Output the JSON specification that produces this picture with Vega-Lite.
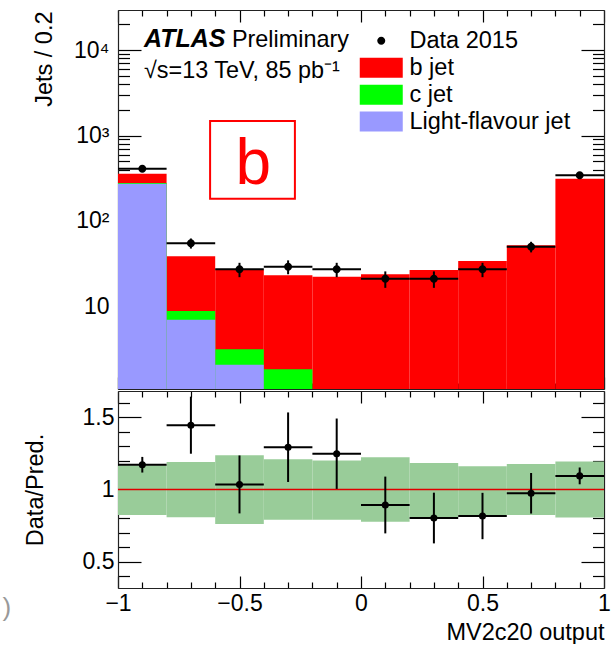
{
  "$schema": "https://vega.github.io/schema/vega-lite/v6.json",
  "padding": {"left": 2, "top": 9, "right": 0, "bottom": 0},
  "background": "white",
  "spacing": 0,
  "config": {
    "font": "Liberation Sans",
    "view": {"stroke": null},
    "axis": {
      "grid": false, "domain": true, "domainColor": "#222222", "domainWidth": 1.2,
      "tickColor": "black", "tickWidth": 1.2, "labelFont": "Liberation Sans", "titleFont": "Liberation Sans",
      "labelColor": "black", "titleColor": "black", "titleFontWeight": "normal", "zindex": 1,
      "labelFlush": false, "labelOverlap": false, "labelFontSize": 23, "titleFontSize": 23.5
    }
  },
  "datasets": {
    "mc": [
      {"lo": -1.0, "hi": -0.8, "flavour": "Light-flavour jet", "n": 273, "k": 1},
      {"lo": -1.0, "hi": -0.8, "flavour": "c jet", "n": 5, "k": 2},
      {"lo": -1.0, "hi": -0.8, "flavour": "b jet", "n": 79, "k": 3},
      {"lo": -0.8, "hi": -0.6, "flavour": "Light-flavour jet", "n": 7.0, "k": 1},
      {"lo": -0.8, "hi": -0.6, "flavour": "c jet", "n": 1.85, "k": 2},
      {"lo": -0.8, "hi": -0.6, "flavour": "b jet", "n": 29.75, "k": 3},
      {"lo": -0.6, "hi": -0.4, "flavour": "Light-flavour jet", "n": 2.08, "k": 1},
      {"lo": -0.6, "hi": -0.4, "flavour": "c jet", "n": 1.08, "k": 2},
      {"lo": -0.6, "hi": -0.4, "flavour": "b jet", "n": 23.74, "k": 3},
      {"lo": -0.4, "hi": -0.2, "flavour": "c jet", "n": 1.84, "k": 2},
      {"lo": -0.4, "hi": -0.2, "flavour": "b jet", "n": 21.4, "k": 3},
      {"lo": -0.2, "hi": 0.0, "flavour": "b jet", "n": 22.3, "k": 3},
      {"lo": 0.0, "hi": 0.2, "flavour": "b jet", "n": 23.8, "k": 3},
      {"lo": 0.2, "hi": 0.4, "flavour": "b jet", "n": 26.7, "k": 3},
      {"lo": 0.4, "hi": 0.6, "flavour": "b jet", "n": 34.0, "k": 3},
      {"lo": 0.6, "hi": 0.8, "flavour": "b jet", "n": 52.0, "k": 3},
      {"lo": 0.8, "hi": 1.0, "flavour": "b jet", "n": 312, "k": 3}
    ],
    "data": [
      {"x": -0.9, "lo": -1.0, "hi": -0.8, "n": 409, "err": 20.2},
      {"x": -0.7, "lo": -0.8, "hi": -0.6, "n": 55, "err": 7.4},
      {"x": -0.5, "lo": -0.6, "hi": -0.4, "n": 27.2, "err": 5.2},
      {"x": -0.3, "lo": -0.4, "hi": -0.2, "n": 29.2, "err": 5.4},
      {"x": -0.1, "lo": -0.2, "hi": 0.0, "n": 27.2, "err": 5.2},
      {"x": 0.1, "lo": 0.0, "hi": 0.2, "n": 21.1, "err": 4.6},
      {"x": 0.3, "lo": 0.2, "hi": 0.4, "n": 21.1, "err": 4.6},
      {"x": 0.5, "lo": 0.4, "hi": 0.6, "n": 27.2, "err": 5.2},
      {"x": 0.7, "lo": 0.6, "hi": 0.8, "n": 50, "err": 7.1},
      {"x": 0.9, "lo": 0.8, "hi": 1.0, "n": 342, "err": 18.5}
    ],
    "ratio": [
      {"x": -0.9, "lo": -1.0, "hi": -0.8, "r": 1.171, "e": 0.054, "blo": 0.824, "bhi": 1.167},
      {"x": -0.7, "lo": -0.8, "hi": -0.6, "r": 1.444, "e": 0.197, "blo": 0.808, "bhi": 1.19},
      {"x": -0.5, "lo": -0.6, "hi": -0.4, "r": 1.035, "e": 0.2, "blo": 0.761, "bhi": 1.236},
      {"x": -0.3, "lo": -0.4, "hi": -0.2, "r": 1.292, "e": 0.24, "blo": 0.792, "bhi": 1.208},
      {"x": -0.1, "lo": -0.2, "hi": 0.0, "r": 1.247, "e": 0.243, "blo": 0.792, "bhi": 1.201},
      {"x": 0.1, "lo": 0.0, "hi": 0.2, "r": 0.893, "e": 0.196, "blo": 0.778, "bhi": 1.222},
      {"x": 0.3, "lo": 0.2, "hi": 0.4, "r": 0.803, "e": 0.175, "blo": 0.808, "bhi": 1.183},
      {"x": 0.5, "lo": 0.4, "hi": 0.6, "r": 0.817, "e": 0.16, "blo": 0.824, "bhi": 1.16},
      {"x": 0.7, "lo": 0.6, "hi": 0.8, "r": 0.974, "e": 0.14, "blo": 0.824, "bhi": 1.176},
      {"x": 0.9, "lo": 0.8, "hi": 1.0, "r": 1.094, "e": 0.058, "blo": 0.806, "bhi": 1.194}
    ]
  },
  "resolve": {"scale": {"color": "independent", "shape": "independent"}, "legend": {"color": "independent", "shape": "independent"}},
  "vconcat": [
    {
      "width": 486,
      "height": 379,
      "resolve": {"axis": {"x": "independent", "y": "independent"}},
      "layer": [
        {
          "data": {"name": "mc"},
          "transform": [
            {"window": [{"op": "sum", "field": "n", "as": "cum"}], "groupby": ["lo"], "sort": [{"field": "k", "order": "ascending"}], "frame": [null, 0]}
          ],
          "mark": {"type": "bar", "clip": true, "opacity": 1},
          "encoding": {
            "x": {"field": "lo", "type": "quantitative", "scale": {"domain": [-1, 1], "nice": false, "zero": false},
              "axis": {"orient": "bottom", "values": [-1,-0.9,-0.8,-0.7,-0.6,-0.5,-0.4,-0.3,-0.2,-0.1,0,0.1,0.2,0.3,0.4,0.5,0.6,0.7,0.8,0.9,1], "labels": false, "title": null,
                "tickSize": {"condition": {"test": "abs(datum.value*2-round(datum.value*2))<0.001", "value": -12}, "value": -6}}},
            "x2": {"field": "hi"},
            "y": {"field": "cum", "type": "quantitative", "stack": null,
              "scale": {"type": "log", "domain": [1.08, 29500], "clamp": true, "nice": false},
              "axis": {"orient": "left", "values": [2,3,4,5,6,7,8,9,10,20,30,40,50,60,70,80,90,100,200,300,400,500,600,700,800,900,1000,2000,3000,4000,5000,6000,7000,8000,9000,10000,20000],
                "labelExpr": "datum.value==10000?'10⁴':datum.value==1000?'10³':datum.value==100?'10²':datum.value==10?'10':''",
                "labelPadding": 32,
                "tickSize": {"condition": {"test": "indexof([10,100,1000,10000],datum.value)>=0", "value": -23}, "value": -11.5},
                "title": "Jets / 0.2", "titleX": -62, "titleY": 1, "titleAngle": -90, "titleAlign": "right", "titleBaseline": "bottom"}},
            "y2": {"datum": 1.08},
            "color": {"field": "flavour", "type": "nominal",
              "scale": {"domain": ["b jet", "c jet", "Light-flavour jet"], "range": ["#ff0000", "#00ff00", "#9999ff"]},
              "legend": {"orient": "none", "legendX": 251.5, "legendY": 46, "title": null, "direction": "vertical", "padding": 0,
                "labelFont": "Liberation Sans", "labelFontSize": 23.5, "labelColor": "black", "labelLimit": 400, "labelOffset": 16.5,
                "symbolSize": 400, "symbolStrokeWidth": 0, "symbolOpacity": 1, "rowPadding": 1.9,
                "symbolType": "M-2.15,-1H2.15V1H-2.15Z"}},
            "order": {"field": "k", "type": "quantitative", "sort": "descending"}
          }
        },
        {
          "data": {"name": "data"},
          "mark": {"type": "rule", "color": "black", "strokeWidth": 2},
          "encoding": {
            "x": {"field": "lo", "type": "quantitative", "axis": null},
            "x2": {"field": "hi"},
            "y": {"field": "n", "type": "quantitative", "axis": null}
          }
        },
        {
          "data": {"name": "data"},
          "mark": {"type": "errorbar", "ticks": false, "thickness": 2, "color": "black"},
          "encoding": {
            "x": {"field": "x", "type": "quantitative", "axis": null},
            "y": {"field": "n", "type": "quantitative", "axis": null},
            "yError": {"field": "err"}
          }
        },
        {
          "data": {"name": "data"},
          "mark": {"type": "point", "filled": true, "size": 400, "opacity": 1, "color": "black", "strokeWidth": 0},
          "encoding": {
            "x": {"field": "x", "type": "quantitative",
              "axis": {"orient": "top", "values": [-1,-0.9,-0.8,-0.7,-0.6,-0.5,-0.4,-0.3,-0.2,-0.1,0,0.1,0.2,0.3,0.4,0.5,0.6,0.7,0.8,0.9,1], "labels": false, "title": null,
                "tickSize": {"condition": {"test": "abs(datum.value*2-round(datum.value*2))<0.001", "value": -12}, "value": -6}}},
            "y": {"field": "n", "type": "quantitative",
              "axis": {"orient": "right", "values": [2,3,4,5,6,7,8,9,10,20,30,40,50,60,70,80,90,100,200,300,400,500,600,700,800,900,1000,2000,3000,4000,5000,6000,7000,8000,9000,10000,20000],
                "labels": false, "title": null,
                "tickSize": {"condition": {"test": "indexof([10,100,1000,10000],datum.value)>=0", "value": -23}, "value": -11.5}}},
            "shape": {"datum": "Data 2015", "type": "nominal",
              "scale": {"domain": ["Data 2015"], "range": ["M0.4,0A0.4,0.4,0,1,1,-0.4,0A0.4,0.4,0,1,1,0.4,0Z"]},
              "legend": {"orient": "none", "legendX": 251.5, "legendY": 19, "title": null, "direction": "vertical", "padding": 0,
                "labelFont": "Liberation Sans", "labelFontSize": 23.5, "labelColor": "black", "labelLimit": 400, "labelOffset": 16.5,
                "symbolSize": 400, "symbolStrokeWidth": 0, "symbolFillColor": "black", "symbolOpacity": 1}}
          }
        },
        {
          "data": {"values": [{}]},
          "mark": {"type": "text", "text": "ATLAS", "fontStyle": "italic", "fontWeight": "bold", "fontSize": 25, "align": "left", "baseline": "alphabetic", "color": "black"},
          "encoding": {
            "x": {"datum": -0.893, "type": "quantitative", "axis": null},
            "y": {"datum": 10940, "type": "quantitative", "axis": null}
          }
        },
        {
          "data": {"values": [{}]},
          "mark": {"type": "text", "text": "Preliminary", "fontSize": 23.4, "align": "left", "baseline": "alphabetic", "color": "black"},
          "encoding": {
            "x": {"datum": -0.531, "type": "quantitative", "axis": null},
            "y": {"datum": 10940, "type": "quantitative", "axis": null}
          }
        },
        {
          "data": {"values": [{}]},
          "mark": {"type": "text", "text": "√s=13 TeV, 85 pb⁻¹", "fontSize": 23.4, "align": "left", "baseline": "alphabetic", "color": "black"},
          "encoding": {
            "x": {"datum": -0.893, "type": "quantitative", "axis": null},
            "y": {"datum": 4700, "type": "quantitative", "axis": null}
          }
        },
        {
          "data": {"values": [{}]},
          "mark": {"type": "rect", "filled": false, "color": "#ff0000", "strokeWidth": 2},
          "encoding": {
            "x": {"datum": -0.621, "type": "quantitative", "axis": null},
            "x2": {"datum": -0.272},
            "y": {"datum": 1480, "type": "quantitative", "axis": null},
            "y2": {"datum": 182}
          }
        },
        {
          "data": {"values": [{}]},
          "mark": {"type": "text", "text": "b", "fontSize": 64, "align": "center", "baseline": "alphabetic", "color": "#ff0000"},
          "encoding": {
            "x": {"datum": -0.443, "type": "quantitative", "axis": null},
            "y": {"datum": 271, "type": "quantitative", "axis": null}
          }
        }
      ]
    },
    {
      "width": 486,
      "height": 197,
      "resolve": {"axis": {"x": "independent", "y": "independent"}},
      "layer": [
        {
          "data": {"name": "ratio"},
          "mark": {"type": "bar", "clip": true, "color": "#99cc99", "opacity": 1},
          "encoding": {
            "x": {"field": "lo", "type": "quantitative", "scale": {"domain": [-1, 1], "nice": false, "zero": false},
              "axis": {"orient": "bottom", "values": [-1,-0.9,-0.8,-0.7,-0.6,-0.5,-0.4,-0.3,-0.2,-0.1,0,0.1,0.2,0.3,0.4,0.5,0.6,0.7,0.8,0.9,1],
                "labelExpr": "abs(datum.value*2-round(datum.value*2))<0.001 ? format(datum.value,'~g') : ''",
                "labelPadding": 16, "labelBaseline": "top",
                "tickSize": {"condition": {"test": "abs(datum.value*2-round(datum.value*2))<0.001", "value": -12}, "value": -6},
                "title": "MV2c20 output", "titleAnchor": "end", "titlePadding": -1}},
            "x2": {"field": "hi"},
            "y": {"field": "blo", "type": "quantitative", "scale": {"domain": [0.32, 1.68], "nice": false, "zero": false},
              "axis": {"orient": "left", "values": [0.4,0.5,0.6,0.7,0.8,0.9,1,1.1,1.2,1.3,1.4,1.5,1.6],
                "labelExpr": "abs(datum.value*2-round(datum.value*2))<0.001 ? format(datum.value,'~g') : ''",
                "labelPadding": 27,
                "tickSize": {"condition": {"test": "abs(datum.value*2-round(datum.value*2))<0.001", "value": -23}, "value": -11.5},
                "title": "Data/Pred.", "titleAnchor": "middle", "titlePadding": 35}},
            "y2": {"field": "bhi"}
          }
        },
        {
          "data": {"values": [{}]},
          "mark": {"type": "rule", "color": "#e00000", "strokeWidth": 1.5},
          "encoding": {
            "y": {"datum": 1, "type": "quantitative", "axis": null}
          }
        },
        {
          "data": {"name": "ratio"},
          "mark": {"type": "rule", "color": "black", "strokeWidth": 2},
          "encoding": {
            "x": {"field": "lo", "type": "quantitative", "axis": null},
            "x2": {"field": "hi"},
            "y": {"field": "r", "type": "quantitative", "axis": null}
          }
        },
        {
          "data": {"name": "ratio"},
          "mark": {"type": "errorbar", "ticks": false, "thickness": 2, "color": "black"},
          "encoding": {
            "x": {"field": "x", "type": "quantitative", "axis": null},
            "y": {"field": "r", "type": "quantitative", "axis": null},
            "yError": {"field": "e"}
          }
        },
        {
          "data": {"name": "ratio"},
          "mark": {"type": "point", "filled": true, "size": 50, "opacity": 1, "color": "black"},
          "encoding": {
            "x": {"field": "x", "type": "quantitative",
              "axis": {"orient": "top", "values": [-1,-0.9,-0.8,-0.7,-0.6,-0.5,-0.4,-0.3,-0.2,-0.1,0,0.1,0.2,0.3,0.4,0.5,0.6,0.7,0.8,0.9,1], "labels": false, "title": null,
                "tickSize": {"condition": {"test": "abs(datum.value*2-round(datum.value*2))<0.001", "value": -12}, "value": -6}}},
            "y": {"field": "r", "type": "quantitative",
              "axis": {"orient": "right", "values": [0.4,0.5,0.6,0.7,0.8,0.9,1,1.1,1.2,1.3,1.4,1.5,1.6], "labels": false, "title": null,
                "tickSize": {"condition": {"test": "abs(datum.value*2-round(datum.value*2))<0.001", "value": -23}, "value": -11.5}}}
          }
        },
        {
          "data": {"values": [{}]},
          "mark": {"type": "text", "text": ")", "fontSize": 26, "align": "center", "baseline": "middle", "color": "#999999"},
          "encoding": {
            "x": {"datum": -1.457, "type": "quantitative", "axis": null},
            "y": {"datum": 0.179, "type": "quantitative", "axis": null}
          }
        }
      ]
    }
  ]
}
